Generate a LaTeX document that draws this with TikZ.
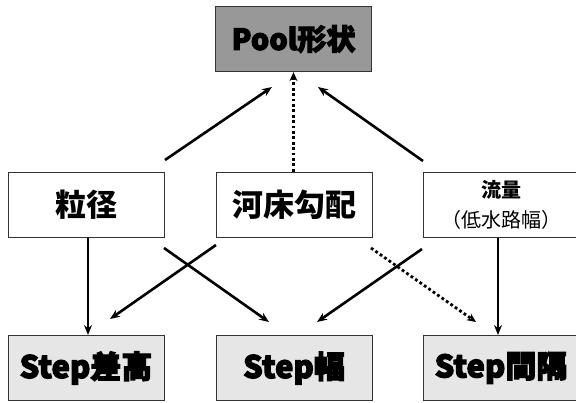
\documentclass[tikz,border=0pt]{standalone}
\usepackage{fontspec}
\newfontfamily\cjk{Noto Sans CJK JP}
\newfontfamily\cjkheavy{Noto Sans CJK JP}[BoldFeatures={FakeBold=3.5}]
\usetikzlibrary{arrows.meta}
\definecolor{poolgray}{HTML}{989898}
\definecolor{steplight}{HTML}{E6E6E6}
\definecolor{edge}{HTML}{333333}
\tikzset{
  box/.style={draw=edge, line width=1pt, rectangle, minimum width=156pt, minimum height=65pt, inner sep=0pt, align=center},
  poolbox/.style={box, fill=poolgray, line width=1.3pt, font=\cjkheavy\bfseries\fontsize{29}{32}\selectfont},
  factorbox/.style={box, fill=white, font=\cjk\bfseries\fontsize{31}{34}\selectfont},
  stepbox/.style={box, fill=steplight, font=\cjkheavy\bfseries\fontsize{31}{34}\selectfont},
  arr/.style={line width=2.6pt, -{Stealth[length=10pt,width=8pt]}},
  dotarr/.style={line width=2.8pt, dash pattern=on 2.8pt off 2.6pt, -{Stealth[length=9pt,width=8pt]}},
}
\begin{document}
\begin{tikzpicture}[x=1pt,y=-1pt]
\useasboundingbox (0,0) rectangle (576,402);
\clip (0,0) rectangle (576,402);
\node[poolbox] (pool) at (293.5,39) {Pool形状};
\node[factorbox] (ryukei) at (86,204.5) {粒径};
\node[factorbox] (kasho) at (294,204.5) {河床勾配};
\node[factorbox, font=\cjk\bfseries\fontsize{20}{30}\selectfont] (ryuryo) at (501,204.5) {流量\\{\mdseries（低水路幅）}};
\node[stepbox] (sa) at (86,368) {Step差高};
\node[stepbox] (haba) at (294,368) {Step幅};
\node[stepbox] (kankaku) at (501,368) {Step間隔};
% free endpoints
\coordinate (a1s) at (165,160); \coordinate (a1e) at (272,87);
\coordinate (a2s) at (293.5,172); \coordinate (a2e) at (293.5,72);
\coordinate (a3s) at (423,161); \coordinate (a3e) at (318,87);
\coordinate (b1s) at (216,245); \coordinate (b1e) at (110,319);
\coordinate (b2s) at (164,248); \coordinate (b2e) at (269,322);
\coordinate (b3s) at (422,249); \coordinate (b3e) at (317,322);
\coordinate (b4s) at (371,248); \coordinate (b4e) at (476,322);
\draw[arr] (a1s) -- (a1e);
\draw[dotarr] (kasho.north -| a2s) -- (pool.south -| a2e);
\draw[arr] (a3s) -- (a3e);
\draw[arr, line width=2pt] (ryukei.south -| 88,0) -- (sa.north -| 88,0);
\draw[arr, line width=2pt] (ryuryo.south -| 498,0) -- (kankaku.north -| 498,0);
\draw[arr] (b1s) -- (b1e);
\draw[arr] (b2s) -- (b2e);
\draw[arr] (b3s) -- (b3e);
\draw[dotarr] (b4s) -- (b4e);
\end{tikzpicture}
\end{document}
